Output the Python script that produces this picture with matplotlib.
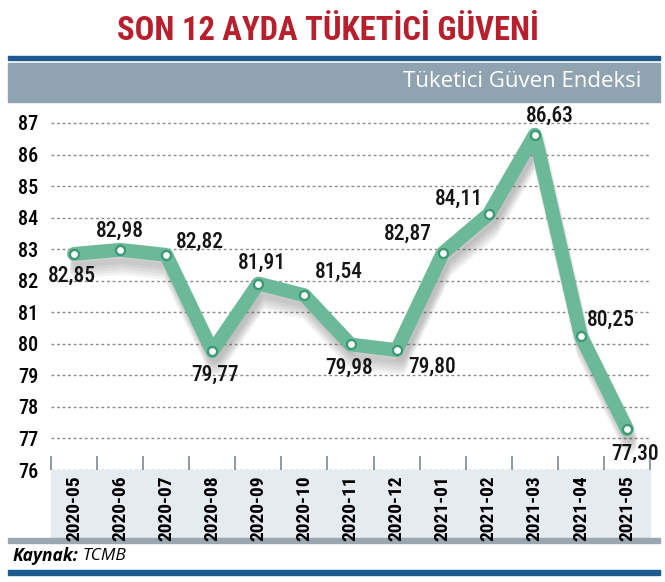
import numpy as np
import matplotlib
matplotlib.use('Agg')
from matplotlib import pyplot as plt
from matplotlib import patheffects as pe
from matplotlib.patches import Rectangle

#################
# the data      #
#################
months = ['2020-05', '2020-06', '2020-07', '2020-08', '2020-09', '2020-10', '2020-11',
          '2020-12', '2021-01', '2021-02', '2021-03', '2021-04', '2021-05']
values = [82.85, 82.98, 82.82, 79.77, 81.91, 81.54, 79.98, 79.80, 82.87, 84.11, 86.63, 80.25, 77.30]
labels = ['82,85', '82,98', '82,82', '79,77', '81,91', '81,54', '79,98', '79,80',
          '82,87', '84,11', '86,63', '80,25', '77,30']
yticks = list(range(76, 88))

# label offsets in pixels (dx, dy)
offsets = [(-2, -22), (0, 19), (34, 13), (3, -24), (4, 21), (34, 23), (-1, -23),
           (36, -17), (-35, 19), (-30, 15), (15, 19), (30, 16), (8, -25)]

narrow = ['Roboto Condensed', 'DejaVu Sans']
sans = ['Open Sans', 'DejaVu Sans']
green = '#6cb999'
W, H = 665, 582
y_bot, y_87 = 470, 123
unit = (y_bot - y_87) / 11.0

fig = plt.figure(figsize=(W / 100, H / 100), dpi=100)
fig.patch.set_facecolor('white')

def fx(px):
    return px / W

def fy(py):
    return 1 - py / H

def band(x0, y0, x1, y1, col):
    fig.patches.append(Rectangle((fx(x0), fy(y1)), fx(x1 - x0), (y1 - y0) / H,
                                 transform=fig.transFigure, color=col, zorder=-5))

# title
fig.text(fx(328), fy(31), 'SON 12 AYDA TÜKETİCİ GÜVENİ', color='#b71f2d', family=narrow,
         fontweight='bold', fontsize=23.5, ha='center', va='center')

# header bars
band(8, 56, 660, 60, '#1d5b8f')
band(8, 63, 660, 102, '#8fa3b1')
fig.text(fx(641), fy(82), 'Tüketici Güven Endeksi', color='white', family=sans,
         fontsize=16, ha='right', va='center')

# x label panel + footer
band(51, y_bot, 650, 537, '#e6ebf0')
band(8, 538, 660, 543, '#9aa7b0')
band(8, 570, 660, 575, '#1d5b8f')
fig.text(fx(13), fy(556), 'Kaynak:', family=sans, fontsize=12.5,
         fontweight='bold', fontstyle='italic', ha='left', va='center')
fig.text(fx(82), fy(556), 'TCMB', family=sans, fontsize=12.5,
         fontstyle='italic', ha='left', va='center')

#################
# plot the data #
#################
ax = fig.add_axes([fx(51), fy(y_bot), fx(599), (y_bot - 110) / H])
ax.patch.set_alpha(0)
x = np.arange(len(values))

# soft shadow under the line
shadow = [pe.SimpleLineShadow(offset=(2, -3 - 2 * k), shadow_color='#555555', alpha=0.07)
          for k in range(6)]
ax.plot(x, values, color=green, lw=10, solid_joinstyle='round', solid_capstyle='round',
        path_effects=shadow + [pe.Normal()], zorder=3)
ax.plot(x, values, 'o', ms=6.5, mfc='white', mec='#3a9873', mew=1.6, zorder=4)

for i in range(len(values)):
    ax.annotate(labels[i], (x[i], values[i]), xytext=offsets[i], textcoords='offset pixels',
                ha='center', va='center', family=narrow, fontsize=15.5, fontweight='medium',
                color='#151515', zorder=5)

ax.set_xlim(-23 / 46, 12 + 23 / 46)
ax.set_ylim(76, 76 + (y_bot - 110) / unit)
ax.set_yticks(yticks)
ax.set_yticklabels([str(t) for t in yticks], family=narrow, fontsize=14.5, fontweight='medium')
ax.yaxis.grid(True, color='#8a8a8a', linestyle=(0, (2, 2)), lw=1)
ax.set_axisbelow(True)
ax.tick_params(axis='y', length=0, pad=9)

ax.set_xticks(x)
ax.set_xticklabels(months, rotation=90, family=narrow, fontsize=14, fontweight='bold',
                   va='top')
ax.set_xticks(np.arange(len(values) + 1) - 0.5, minor=True)
ax.tick_params(axis='x', which='major', length=0, pad=4)
ax.tick_params(axis='x', which='minor', length=10, direction='in', color='#7a8a96', width=1.2)

for s in ax.spines.values():
    s.set_visible(False)

plt.savefig('out.png', dpi=100)
